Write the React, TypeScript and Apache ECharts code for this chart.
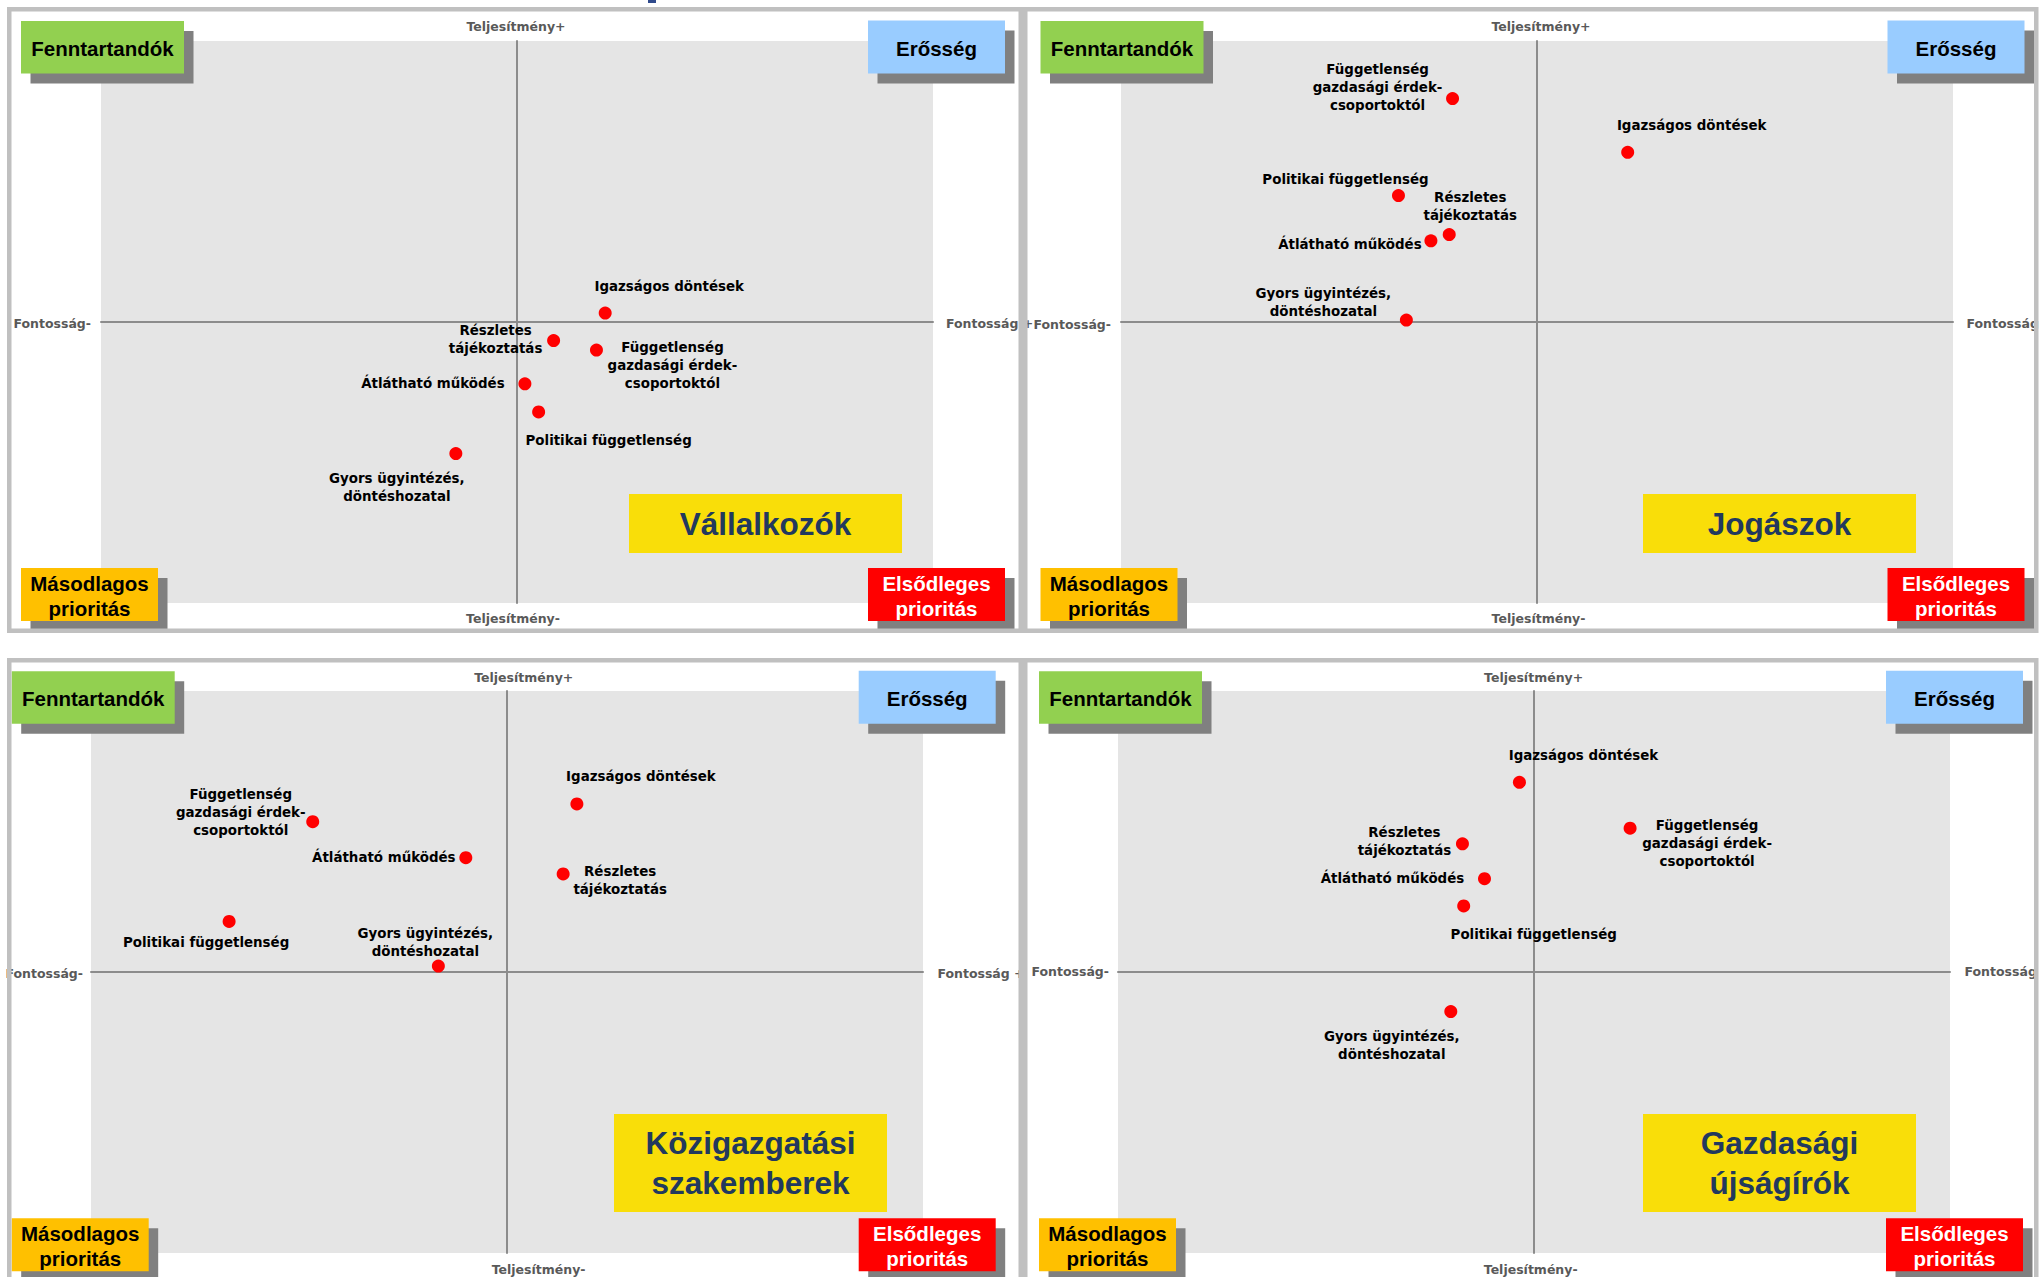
import React, { useEffect, useRef } from "react";
import * as echarts from "echarts";

// ---------- DATA ----------
const categories = [
  "Igazságos döntések",
  "Részletes tájékoztatás",
  "Függetlenség gazdasági érdekcsoportoktól",
  "Átlátható működés",
  "Politikai függetlenség",
  "Gyors ügyintézés, döntéshozatal",
];
const pointLabels = [
  "Igazságos döntések",
  "Részletes\ntájékoztatás",
  "Függetlenség\ngazdasági érdek-\ncsoportoktól",
  "Átlátható működés",
  "Politikai függetlenség",
  "Gyors ügyintézés,\ndöntéshozatal",
];
const panelTitles = ["Vállalkozók", "Jogászok", "Közigazgatási\nszakemberek", "Gazdasági\nújságírók"];

// Fontosság (x) and Teljesítmény (y), scale -100..100, centre = 0
const vallalkozokFontossag = [21.2, 8.8, 19.1, 1.9, 5.2, -14.7];
const vallalkozokTeljesitmeny = [3.2, -6.6, -10.0, -22.0, -32.0, -46.8];
const jogaszokFontossag = [21.8, -21.1, -20.3, -25.5, -33.3, -31.4];
const jogaszokTeljesitmeny = [60.4, 31.1, 79.5, 28.9, 45.0, 0.7];
const kozigazgatasiFontossag = [16.8, 13.5, -46.7, -9.9, -66.8, -16.5];
const kozigazgatasiTeljesitmeny = [59.8, 34.9, 53.5, 40.7, 18.0, 2.1];
const ujsagirokFontossag = [-3.5, -17.2, 23.1, -11.9, -16.9, -20.0];
const ujsagirokTeljesitmeny = [67.5, 45.6, 51.2, 33.2, 23.5, -14.1];

const quadrantLabels = ["Fenntartandók", "Erősség", "Másodlagos\nprioritás", "Elsődleges\nprioritás"];
const axisTexts = ["Teljesítmény+", "Teljesítmény-", "Fontosság-", "Fontosság +"];
const axisMin = -100;
const axisMax = 100;

const panelData = [
  [vallalkozokFontossag, vallalkozokTeljesitmeny],
  [jogaszokFontossag, jogaszokTeljesitmeny],
  [kozigazgatasiFontossag, kozigazgatasiTeljesitmeny],
  [ujsagirokFontossag, ujsagirokTeljesitmeny],
];

// ---------- LAYOUT ----------
const GRID_W = 832;
const GRID_H = 562;
const PANELS = [
  {
    grid: { left: 101, top: 41 },
    border: { x: 9.25, y: 9.25, w: 1011.5, h: 621.5 },
    off: [0, 0],
    title: { x: 629, y: 494, w: 273, h: 59 },
    tPlus: [516, 26.5], tMinus: [513, 618], fMinus: [91, 323], fPlus: [946, 323],
  },
  {
    grid: { left: 1121, top: 41 },
    border: { x: 1025.25, y: 9.25, w: 1011, h: 621.5 },
    off: [1019.5, 0],
    title: { x: 1643, y: 494, w: 273, h: 59 },
    tPlus: [1541, 26.5], tMinus: [1538.5, 618], fMinus: [1111, 324], fPlus: [1966.5, 323],
  },
  {
    grid: { left: 91, top: 691 },
    border: { x: 9.25, y: 660.25, w: 1011.5, h: 700 },
    off: [-9.3, 650.3],
    title: { x: 614, y: 1114, w: 273, h: 98 },
    tPlus: [523.7, 677], tMinus: [538.6, 1269], fMinus: [83, 973], fPlus: [937.4, 973],
  },
  {
    grid: { left: 1118, top: 691 },
    border: { x: 1025.25, y: 660.25, w: 1011, h: 700 },
    off: [1018, 650.3],
    title: { x: 1643, y: 1114, w: 273, h: 98 },
    tPlus: [1533.6, 677], tMinus: [1530.7, 1269], fMinus: [1109, 971], fPlus: [1964.5, 971],
  },
];
const QUAD_BOXES = [
  { x: 21, y: 21, w: 163, h: 52.5, fill: "#92D050", color: "#000" },
  { x: 868, y: 20.5, w: 137, h: 53, fill: "#99CCFF", color: "#000" },
  { x: 21, y: 568, w: 137, h: 53, fill: "#FFC000", color: "#000" },
  { x: 868, y: 568, w: 137, h: 53, fill: "#FF0000", color: "#fff" },
];
const SHADOW = [9.5, 10];
// label centre offsets from the dot, per panel, per category
const LABEL_OFFSETS = [
  [[64, -27], [-58, -1], [76, 15], [-92, 0], [70, 29], [-59, 34]],
  [[64, -27], [21, -28], [-75, -11], [-81, 4], [-53, -16], [-83, -18]],
  [[64, -27], [57, 7], [-72, -9], [-82, 0], [-23, 21], [-13, -24]],
  [[64, -27], [-58, -2], [77, 15], [-92, 0], [70, 29], [-59, 34]],
];

const LABEL_FONT = "DejaVu Sans";
const BOX_FONT = "Liberation Sans";

function buildOption() {
  const grid: any[] = [];
  const xAxis: any[] = [];
  const yAxis: any[] = [];
  const series: any[] = [];
  const graphic: any[] = [];

  graphic.push({ type: "rect", z: 1, shape: { x: 648, y: 0, width: 8, height: 3 }, style: { fill: "#2F4A8C" } });

  PANELS.forEach((p, i) => {
    grid.push({
      left: p.grid.left, top: p.grid.top, width: GRID_W, height: GRID_H,
      show: true, backgroundColor: "#E5E5E5", borderWidth: 0,
    });
    const axisCommon = {
      type: "value", gridIndex: i, min: axisMin, max: axisMax,
      axisLine: { show: true, onZero: true, lineStyle: { color: "#8C8C8C", width: 2 } },
      axisTick: { show: false }, axisLabel: { show: false }, splitLine: { show: false },
    };
    xAxis.push({ ...axisCommon });
    yAxis.push({ ...axisCommon });

    const [xs, ys] = panelData[i];
    series.push({
      type: "scatter",
      xAxisIndex: i, yAxisIndex: i,
      symbol: "circle", symbolSize: 13,
      itemStyle: { color: "#FF0000", opacity: 1 },
      z: 5,
      data: xs.map((x, j) => ({
        value: [x, ys[j]],
        name: categories[j],
        label: { offset: LABEL_OFFSETS[i][j] },
      })),
      label: {
        show: true,
        position: "inside",
        formatter: (prm: any) => pointLabels[prm.dataIndex],
        color: "#000",
        textBorderColor: "transparent",
        textBorderWidth: 0,
        fontFamily: LABEL_FONT,
        fontWeight: "bold",
        fontSize: 13.4,
        lineHeight: 18,
        align: "center",
        verticalAlign: "middle",
      },
    });

    // axis texts
    const axStyle = { fill: "#595959", fontFamily: LABEL_FONT, fontWeight: "bold", fontSize: 12.5 };
    graphic.push({ type: "text", z: 1, x: p.tPlus[0], y: p.tPlus[1], style: { ...axStyle, text: axisTexts[0], align: "center", verticalAlign: "middle" } });
    graphic.push({ type: "text", z: 1, x: p.tMinus[0], y: p.tMinus[1], style: { ...axStyle, text: axisTexts[1], align: "center", verticalAlign: "middle" } });
    graphic.push({ type: "text", z: 1, x: p.fMinus[0], y: p.fMinus[1], style: { ...axStyle, text: axisTexts[2], align: "right", verticalAlign: "middle" } });
    graphic.push({ type: "text", z: 1, x: p.fPlus[0], y: p.fPlus[1], style: { ...axStyle, text: axisTexts[3], align: "left", verticalAlign: "middle" } });

    // quadrant boxes
    QUAD_BOXES.forEach((b, k) => {
      const bx = b.x + p.off[0];
      const by = b.y + p.off[1];
      graphic.push({ type: "rect", z: 2, shape: { x: bx + SHADOW[0], y: by + SHADOW[1], width: b.w, height: b.h }, style: { fill: "#808080" } });
      graphic.push({ type: "rect", z: 3, shape: { x: bx, y: by, width: b.w, height: b.h }, style: { fill: b.fill } });
      graphic.push({
        type: "text", z: 4, x: bx + b.w / 2, y: by + b.h / 2 + 1,
        style: {
          text: quadrantLabels[k], fill: b.color, fontFamily: BOX_FONT, fontWeight: "bold",
          fontSize: 20.5, lineHeight: 25, align: "center", verticalAlign: "middle",
        },
      });
    });

    // title box
    const t = p.title;
    graphic.push({ type: "rect", z: 3, shape: { x: t.x, y: t.y, width: t.w, height: t.h }, style: { fill: "#F9DE09" } });
    graphic.push({
      type: "text", z: 4, x: t.x + t.w / 2, y: t.y + t.h / 2,
      style: {
        text: panelTitles[i], fill: "#22395E", fontFamily: BOX_FONT, fontWeight: "bold",
        fontSize: 31.5, lineHeight: 39.5, align: "center", verticalAlign: "middle",
      },
    });

    // panel border (drawn on top)
    const bd = p.border;
    graphic.push({
      type: "rect", z: 6, shape: { x: bd.x, y: bd.y, width: bd.w, height: bd.h },
      style: { fill: "none", stroke: "#C0C0C0", lineWidth: 4.5 },
    });
  });

  return {
    animation: false,
    backgroundColor: "#FFFFFF",
    grid, xAxis, yAxis, series, graphic,
  };
}

export default function App() {
  const ref = useRef<HTMLDivElement>(null);
  useEffect(() => {
    if (!ref.current) return;
    const chart = echarts.init(ref.current, undefined, { renderer: "svg" });
    chart.setOption(buildOption() as any);
    return () => chart.dispose();
  }, []);
  return (
    <div
      ref={ref}
      style={{ position: "absolute", left: 0, top: 0, width: 2040, height: 1277 }}
    />
  );
}
